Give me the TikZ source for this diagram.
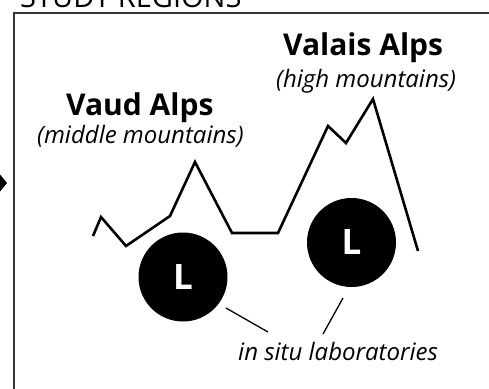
\documentclass[tikz,border=0pt]{standalone}
\usepackage{fontspec}
\setmainfont{Open Sans}
\begin{document}
\begin{tikzpicture}[x=1pt,y=-1pt,
  heading/.style={font=\fontsize{30}{34}\selectfont\bfseries, anchor=base west, inner sep=0pt},
  sub/.style={font=\fontsize{24}{28}\selectfont\itshape, anchor=base west, inner sep=0pt},
  lab/.style={circle, fill=black, minimum size=89pt, inner sep=0pt, text=white, font=\fontsize{35}{40}\selectfont\bfseries},
  ridge/.style={line width=2.6pt, line join=miter},
  leader/.style={line width=1.3pt}]
\useasboundingbox (0,0) rectangle (489,388);
\begin{scope}
\clip (0,0) rectangle (489,388);
% cut-off title
\node[font=\fontsize{29}{33}\selectfont, anchor=base west, inner sep=0pt] (title) at (20,7) {STUDY REGIONS};
% frame
\draw[line width=1.6pt, black!80] (14,400) -- (14,13) -- (500,13);
% arrow tip on the left
\fill (-2,172) -- (7,183) -- (-2,194) -- cycle;
% ridge line
\draw[ridge] (93,236) -- (101,217) -- (126,246) -- (170,216) -- (195,162) -- (232,233) -- (278,233) -- (328,126) -- (346,143) -- (373,99) -- (418,251);
\end{scope}
% labels
\node[heading] (valais) at (283,55) {Valais Alps};
\node[sub] (high) at (276,87) {(high mountains)};
\node[heading] (vaud) at (66,115) {Vaud Alps};
\node[sub] (middle) at (37,143) {(middle mountains)};
% laboratories
\node[lab] (L1) at (183,277) {L};
\node[lab] (L2) at (351.5,242.5) {L};
\node[sub] (insitu) at (238,360) {in situ laboratories};
\coordinate (a1) at (226,308);
\coordinate (b1) at (268,332);
\coordinate (a2) at (343,298);
\coordinate (b2) at (323,334);
\draw[leader] (a1) -- (b1);
\draw[leader] (a2) -- (b2);
\end{tikzpicture}
\end{document}
